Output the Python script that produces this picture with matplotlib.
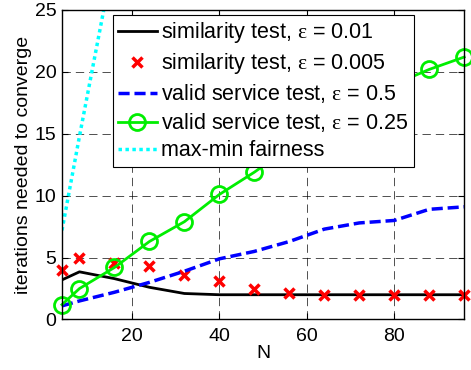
import numpy as np
import matplotlib
matplotlib.use('Agg')
import matplotlib.pyplot as plt

plt.rcParams['font.family'] = ['Liberation Sans', 'DejaVu Sans']
plt.rcParams['mathtext.fontset'] = 'custom'
plt.rcParams['mathtext.rm'] = 'Liberation Serif'
plt.rcParams['mathtext.it'] = 'Liberation Serif'

N = [4, 8, 16, 24, 32, 40, 48, 56, 64, 72, 80, 88, 96]
sim_001 = [3.2, 3.85, 3.3, 2.6, 2.1, 2.0, 2.0, 2.0, 2.0, 2.0, 2.0, 2.0, 2.0]
sim_0005 = [4.0, 5.0, 4.6, 4.3, 3.6, 3.1, 2.5, 2.1, 2.0, 2.0, 2.0, 2.0, 2.0]
valid_05 = [1.1, 1.5, 2.2, 3.0, 3.9, 4.9, 5.5, 6.3, 7.3, 7.8, 8.0, 8.9, 9.1]
valid_025 = [1.2, 2.5, 4.2, 6.3, 7.9, 10.1, 11.9, 13.9, 15.8, 17.5, 19.0, 20.2, 21.2]
N_fair = [4, 8, 16]
maxmin = [7.2, 14.8, 29.5]

fig = plt.figure(figsize=(4.71, 3.70), dpi=100)
ax = fig.add_axes([0.1316, 0.1365, 0.854, 0.8365])

eps = r'$\mathrm{\varepsilon}$'
ax.plot(N, sim_001, 'k-', lw=2, label='similarity test, ' + eps + ' = 0.01')
ax.plot(N, sim_0005, 'x', color='r', ms=7.5, mew=2.5, clip_on=False,
        label='similarity test, ' + eps + ' = 0.005')
ax.plot(N, valid_05, '--', color='b', lw=2.5, dashes=(3.2, 1.4), label='valid service test, ' + eps + ' = 0.5')
ax.plot(N, valid_025, '-o', color='#00ee00', lw=2, ms=11.5, mfc='none', mew=2, clip_on=False,
        label='valid service test, ' + eps + ' = 0.25')
ax.plot(N_fair, maxmin, ':', color='cyan', lw=2.5, dashes=(1, 1), label='max-min fairness')

ax.set_xlim(4, 96)
ax.set_ylim(0, 25)
ax.set_xticks([20, 40, 60, 80])
ax.set_yticks([0, 5, 10, 15, 20, 25])
ax.tick_params(direction='in', top=True, right=True, labelsize=14, length=4, width=0.8)
ax.tick_params(axis='x', pad=6)
ax.tick_params(axis='y', pad=4)
ax.grid(True, color='k', ls=(0, (10, 6)), lw=0.6, alpha=0.8)
for s in ax.spines.values():
    s.set_linewidth(1.0)
ax.set_xlabel('N', fontsize=14, labelpad=0)
ax.set_ylabel('iterations needed to converge', fontsize=14, labelpad=2)

leg = ax.legend(loc='upper left', bbox_to_anchor=(0.126, 0.984), fontsize=15.5,
                handlelength=1.8, handletextpad=0.2, borderpad=0.25, labelspacing=0.28,
                fancybox=False, framealpha=1, edgecolor='k', borderaxespad=0)
leg.get_frame().set_linewidth(0.8)
leg.set_zorder(5)

fig.savefig('out.png', dpi=100)
